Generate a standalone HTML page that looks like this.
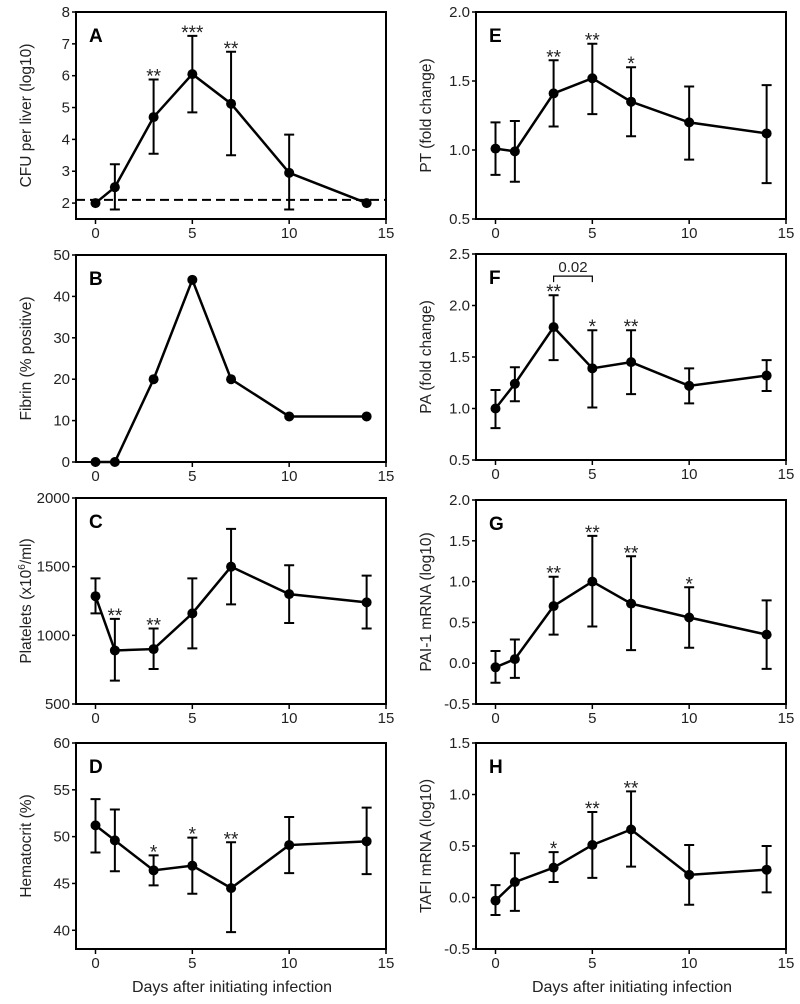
<!DOCTYPE html>
<html><head><meta charset="utf-8"><style>
body{margin:0;background:#fff;}
svg{display:block;font-family:"Liberation Sans",Arial,sans-serif;}
</style></head><body>
<svg id="fig" width="800" height="1004" viewBox="0 0 800 1004"></svg>
<script>
const days=[0,1,3,5,7,10,14];
const aY=[2,2.5,4.7,6.05,5.12,2.95,2];
const aHi=[null,3.22,5.88,7.25,6.75,4.15,null];
const aLo=[null,1.8,3.55,4.85,3.5,1.8,null];
const aStars=["","","**","***","**","",""];
const bY=[0,0,20,44,20,11,11];
const cY=[1285,890,900,1160,1500,1300,1240];
const cHi=[1415,1120,1050,1415,1775,1510,1435];
const cLo=[1160,670,755,905,1225,1090,1050];
const cStars=["","**","**","","","",""];
const dY=[51.2,49.6,46.4,46.9,44.5,49.1,49.5];
const dHi=[54,52.9,48,49.9,49.4,52.1,53.1];
const dLo=[48.3,46.3,44.8,43.9,39.8,46.1,46];
const dStars=["","","*","*","**","",""];
const eY=[1.01,0.99,1.41,1.52,1.35,1.20,1.12];
const eHi=[1.20,1.21,1.65,1.77,1.60,1.46,1.47];
const eLo=[0.82,0.77,1.17,1.26,1.10,0.93,0.76];
const eStars=["","","**","**","*","",""];
const fY=[1.0,1.24,1.79,1.39,1.45,1.22,1.32];
const fHi=[1.18,1.40,2.10,1.76,1.76,1.39,1.47];
const fLo=[0.81,1.07,1.47,1.01,1.14,1.05,1.17];
const fStars=["","","**","*","**","",""];
const gY=[-0.05,0.05,0.70,1.0,0.73,0.56,0.35];
const gHi=[0.15,0.29,1.06,1.56,1.31,0.93,0.77];
const gLo=[-0.24,-0.18,0.35,0.45,0.16,0.19,-0.07];
const gStars=["","","**","**","**","*",""];
const hY=[-0.03,0.15,0.29,0.51,0.66,0.22,0.27];
const hHi=[0.12,0.43,0.44,0.83,1.03,0.51,0.50];
const hLo=[-0.17,-0.13,0.15,0.19,0.30,-0.07,0.05];
const hStars=["","","*","**","**","",""];
const xTicks=[0,5,10,15];
const aTicks=[2,3,4,5,6,7,8];
const bTicks=[0,10,20,30,40,50];
const cTicks=[500,1000,1500,2000];
const dTicks=[40,45,50,55,60];
const eTicks=[0.5,1.0,1.5,2.0];
const fTicks=[0.5,1.0,1.5,2.0,2.5];
const gTicks=[-0.5,0.0,0.5,1.0,1.5,2.0];
const hTicks=[-0.5,0.0,0.5,1.0,1.5];

const NS="http://www.w3.org/2000/svg";
const svg=document.getElementById('fig');
function mk(tag,attrs,parent,text){const e=document.createElementNS(NS,tag);for(const k in attrs)e.setAttribute(k,attrs[k]);if(text!==undefined)e.textContent=text;(parent||svg).appendChild(e);return e;}

function panel(o){
  const g=mk('g',{});
  
  
  const L=o.left,R=o.left+310,T=o.top,B=o.top+o.h;
  const x0=o.left+19.5, xs=(R-x0)/15;
  const X=v=>x0+v*xs;
  const Y=v=>B-(v-o.ymin)/(o.ymax-o.ymin)*(B-T);
  const box=mk('rect',{x:L,y:T,width:R-L,height:B-T,fill:'none',stroke:'#000','stroke-width':2},g);
  
  
  o.ticks.forEach(t=>{
    const y=Y(t);
    mk('line',{x1:L-4,x2:L,y1:y,y2:y,stroke:'#000','stroke-width':1.5},g);
    const tl=mk('text',{x:L-6,y:y+5,'text-anchor':'end','font-size':15,fill:'#222'},g,o.fmt?o.fmt(t):t);
    
    
  });
  xTicks.forEach(t=>{
    const x=X(t);
    mk('line',{x1:x,x2:x,y1:B,y2:B+5,stroke:'#000','stroke-width':1.5},g);
    const tl=mk('text',{x:x,y:B+19,'text-anchor':'middle','font-size':15,fill:'#222'},g,t);
    
    
  });
  const yl=mk('text',{x:0,y:0,'text-anchor':'middle','font-size':15.5,fill:'#222',transform:`translate(${L-45},${(T+B)/2}) rotate(-90)`},g);
  yl.innerHTML=o.ylabel;
  
  
  const lt=mk('text',{x:L+13,y:T+30,'font-size':19,'font-weight':'bold',fill:'#000'},g,o.letter);
  
  
  if(o.dash!==undefined){
    const dl=mk('line',{x1:L,x2:R,y1:Y(o.dash),y2:Y(o.dash),stroke:'#000','stroke-width':2,'stroke-dasharray':'9,5'},g);
    
    
  }
  if(o.hi){days.forEach((d,i)=>{
    if(o.hi[i]==null)return;
    const x=X(d);
    const eb=mk('path',{d:`M${x},${Y(o.lo[i])}V${Y(o.hi[i])}M${x-5},${Y(o.hi[i])}h10M${x-5},${Y(o.lo[i])}h10`,stroke:'#000','stroke-width':2,fill:'none'},g);
    
    
  });}
  const pts=days.map((d,i)=>X(d)+','+Y(o.y[i])).join(' ');
  const pl=mk('polyline',{points:pts,fill:'none',stroke:'#000','stroke-width':2.5},g);
  
  
  days.forEach((d,i)=>{
    const c=mk('circle',{cx:X(d),cy:Y(o.y[i]),r:5,fill:'#000'},g);
    
    
  });
  if(o.stars){days.forEach((d,i)=>{
    if(!o.stars[i])return;
    const top=o.hi&&o.hi[i]!=null?o.hi[i]:o.y[i];
    const s=mk('text',{x:X(d),y:Y(top)+3,'text-anchor':'middle','font-size':19,fill:'#222'},g,o.stars[i]);
    
    
  });}
  return {X,Y,g};
}
const f1=v=>v.toFixed(1);
panel({letter:'A',left:76,top:12,h:207,ymin:1.5,ymax:8,ticks:aTicks,y:aY,hi:aHi,lo:aLo,stars:aStars,ylabel:'CFU per liver (log10)',dash:2.1});
panel({letter:'B',left:76,top:255,h:207,ymin:0,ymax:50,ticks:bTicks,y:bY,ylabel:'Fibrin (% positive)'});
panel({letter:'C',left:76,top:498,h:206,ymin:500,ymax:2000,ticks:cTicks,y:cY,hi:cHi,lo:cLo,stars:cStars,ylabel:'Platelets (x10<tspan dy="-6" font-size="10">6</tspan><tspan dy="6">/ml)</tspan>'});
panel({letter:'D',left:76,top:743,h:206,ymin:38,ymax:60,ticks:dTicks,y:dY,hi:dHi,lo:dLo,stars:dStars,ylabel:'Hematocrit (%)'});
panel({letter:'E',left:476,top:12,h:207,ymin:0.5,ymax:2.0,ticks:eTicks,fmt:f1,y:eY,hi:eHi,lo:eLo,stars:eStars,ylabel:'PT (fold change)'});
const pf=panel({letter:'F',left:476,top:254,h:206,ymin:0.5,ymax:2.5,ticks:fTicks,fmt:f1,y:fY,hi:fHi,lo:fLo,stars:fStars,ylabel:'PA (fold change)'});
panel({letter:'G',left:476,top:500,h:204,ymin:-0.5,ymax:2.0,ticks:gTicks,fmt:f1,y:gY,hi:gHi,lo:gLo,stars:gStars,ylabel:'PAI-1 mRNA (log10)'});
panel({letter:'H',left:476,top:743,h:206,ymin:-0.5,ymax:1.5,ticks:hTicks,fmt:f1,y:hY,hi:hHi,lo:hLo,stars:hStars,ylabel:'TAFI mRNA (log10)'});
// bracket in F
const by=pf.Y(2.285);
const br=mk('path',{d:`M${pf.X(3)},${by+6}V${by}H${pf.X(5)}V${by+6}`,fill:'none',stroke:'#000','stroke-width':1.2},pf.g);


const bt=mk('text',{x:(pf.X(3)+pf.X(5))/2,y:by-4,'text-anchor':'middle','font-size':15,fill:'#222'},pf.g,'0.02');


[[232,'x-axis-title-left'],[632,'x-axis-title-right']].forEach(([x,n])=>{
  const t=mk('text',{x:x,y:992,'text-anchor':'middle','font-size':16,fill:'#222'},svg,'Days after initiating infection');
  
  
});
</script>
</body></html>
